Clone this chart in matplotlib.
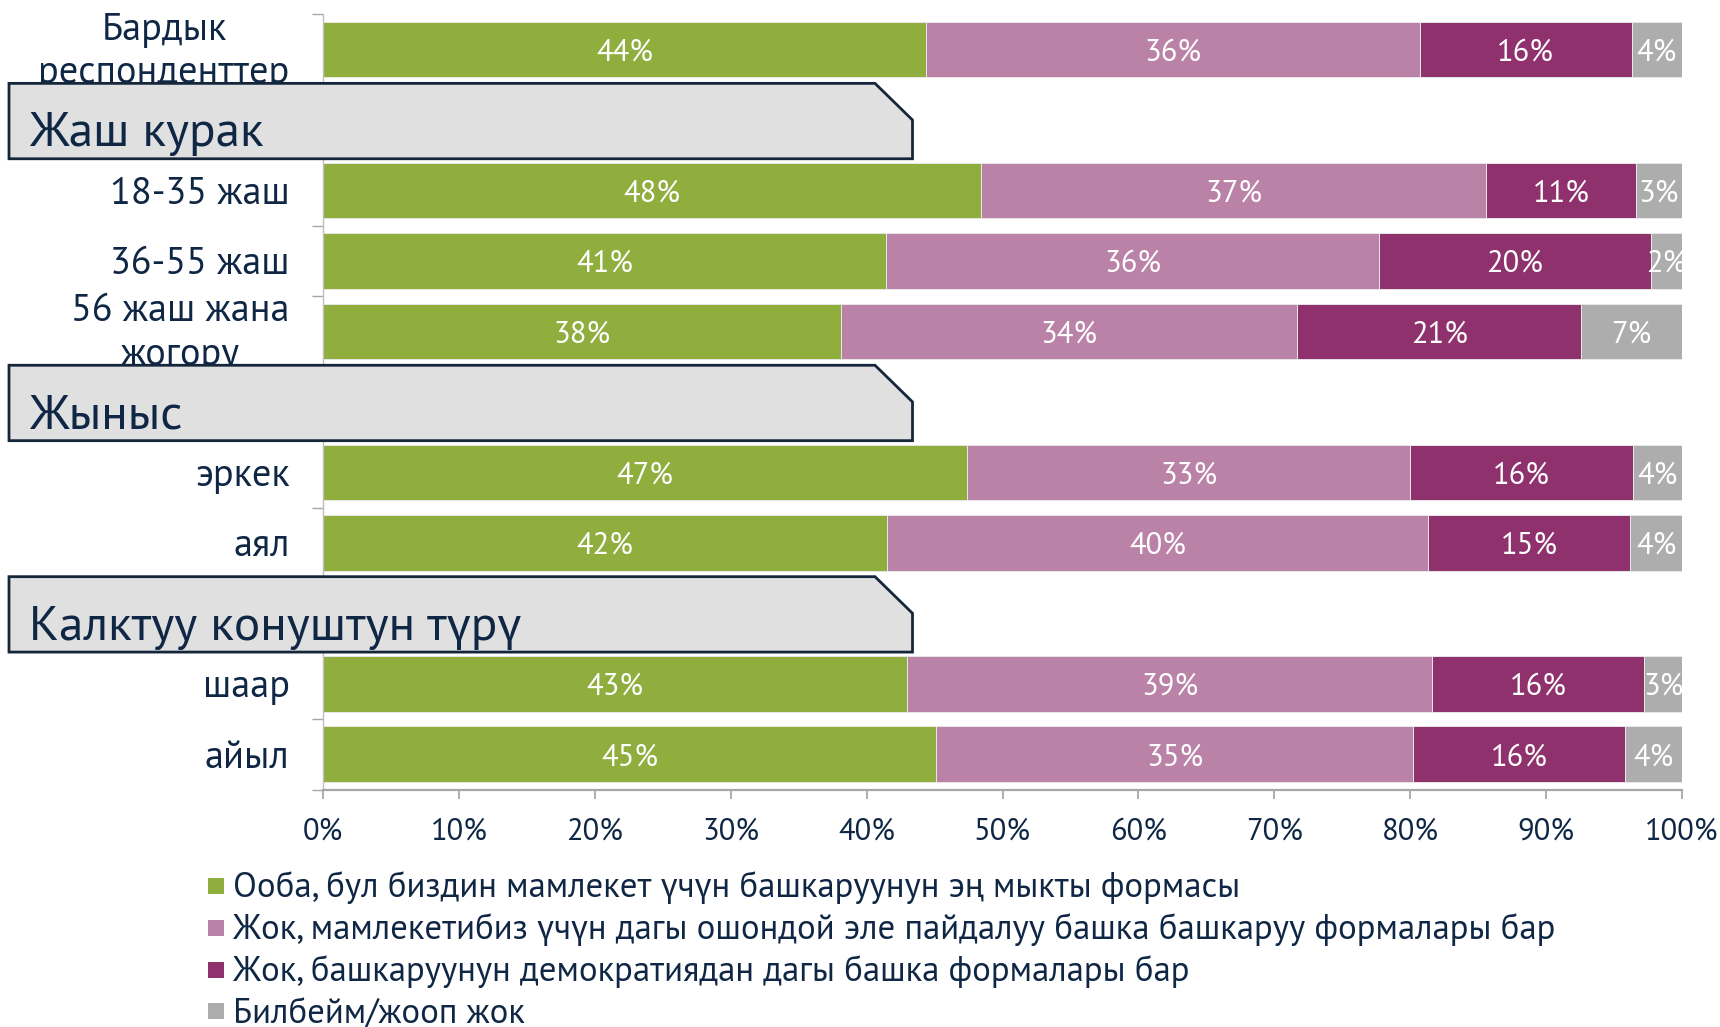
import matplotlib
matplotlib.use("Agg")
import matplotlib.pyplot as plt
from matplotlib.patches import Polygon, Rectangle
from matplotlib import transforms
import numpy as np

FONT = ["PT Sans", "Open Sans", "DejaVu Sans"]
plt.rcParams["font.family"] = FONT

# ---- data ----
categories = ["Бардык\nреспонденттер", "18-35 жаш", "36-55 жаш", "56 жаш жана\nжогору",
              "эркек", "аял", "шаар", "айыл"]
group_titles = ["Жаш курак", "Жыныс", "Калктуу конуштун түрү"]
series_names = [
    "Ооба, бул биздин мамлекет үчүн башкаруунун эң мыкты формасы",
    "Жок, мамлекетибиз үчүн дагы ошондой эле пайдалуу башка башкаруу формалары бар",
    "Жок, башкаруунун демократиядан дагы башка формалары бар",
    "Билбейм/жооп жок",
]
yes_best = [44.4, 48.4, 41.4, 38.1, 47.4, 41.5, 43.0, 45.1]
no_other_useful = [36.3, 37.2, 36.3, 33.6, 32.6, 39.8, 38.6, 35.1]
no_non_democratic = [15.6, 11.0, 20.0, 20.9, 16.4, 14.9, 15.6, 15.6]
dont_know = [3.7, 3.4, 2.3, 7.4, 3.6, 3.8, 2.8, 4.2]
xticks = [0, 10, 20, 30, 40, 50, 60, 70, 80, 90, 100]

colors = ["#8FAE3E", "#BB82A8", "#8F316D", "#ADADAD"]
TEXT = "#0F2745"

# layout: rows (header rows interleaved)
cat_rows = [0, 2, 3, 4, 6, 7, 9, 10]
header_rows = [1, 5, 8]

W, H = 1720, 1027
fig = plt.figure(figsize=(W / 100, H / 100), dpi=100)
ax = fig.add_axes([323 / W, 1 - 789.5 / H, (1682 - 323) / W, (789.5 - 14.3) / H])

series = [yes_best, no_other_useful, no_non_democratic, dont_know]
left = np.zeros(len(categories))
for vals, col, name in zip(series, colors, series_names):
    vals = np.array(vals)
    ax.barh(cat_rows, vals, left=left, height=0.79, color=col,
            edgecolor="#E8E8E8", linewidth=0.7, label=name, zorder=2)
    for y, l, v in zip(cat_rows, left, vals):
        ax.text(l + v / 2, y, f"{v:.0f}%", ha="center", va="center_baseline",
                color="white", fontsize=22, zorder=3)
    left = left + vals

ax.set_xlim(0, 100)
ax.set_ylim(10.5, -0.5)
ax.set_xticks(xticks)
ax.set_xticklabels([f"{t}%" for t in xticks])
ax.set_yticks(cat_rows)
ax.set_yticklabels(categories)
ax.set_yticks(np.arange(-0.5, 11, 1.0), minor=True)
ax.tick_params(axis="y", which="major", length=0, pad=24, labelsize=27.5, labelcolor=TEXT)
ax.tick_params(axis="y", which="minor", length=8, width=1, color="#A6A6A6", direction="out")
ax.tick_params(axis="x", which="major", length=6.5, width=1.3, color="#A6A6A6",
               direction="out", pad=14, labelsize=22, labelcolor=TEXT)
up = transforms.ScaledTranslation(0, 6 / 100, fig.dpi_scale_trans)
for lab in ax.get_yticklabels():
    lab.set_multialignment("center")
    lab.set_linespacing(1.3)
    if "\n" in lab.get_text():
        lab.set_transform(lab.get_transform() + up)
for s in ["top", "right"]:
    ax.spines[s].set_visible(False)
ax.spines["left"].set_color("#BFBFBF")
ax.spines["left"].set_linewidth(1.0)
ax.spines["bottom"].set_color("#A6A6A6")
ax.spines["bottom"].set_linewidth(1.6)

# group header boxes
blend = transforms.blended_transform_factory(fig.transFigure, ax.transData)
x0, x1, xc = 9 / W, 912.5 / W, 875 / W
for r, title in zip(header_rows, group_titles):
    top, bot = r - 0.52, r + 0.55
    poly = Polygon([(x0, top), (xc, top), (x1, r), (x1, bot), (x0, bot)], closed=True,
                   transform=blend, facecolor="#E0E0E0", edgecolor="#15263B",
                   linewidth=2.0, zorder=5, clip_on=False)
    fig.add_artist(poly)
    fig.text(29 / W, r + 0.375, title, transform=blend, ha="left", va="baseline",
             fontsize=35.5, color=TEXT, zorder=6)

# legend (square markers + labels), evenly spaced rows
for i, (name, col) in enumerate(zip(series_names, colors)):
    yc = 886 + i * 41.8
    fig.add_artist(Rectangle((208 / W, 1 - (yc + 8) / H), 16 / W, 16 / H,
                             transform=fig.transFigure, facecolor=col, edgecolor="none"))
    fig.text(233 / W, 1 - (yc + 11.5) / H, name, ha="left", va="baseline",
             fontsize=25, color=TEXT)

fig.savefig("out.png", dpi=100)
